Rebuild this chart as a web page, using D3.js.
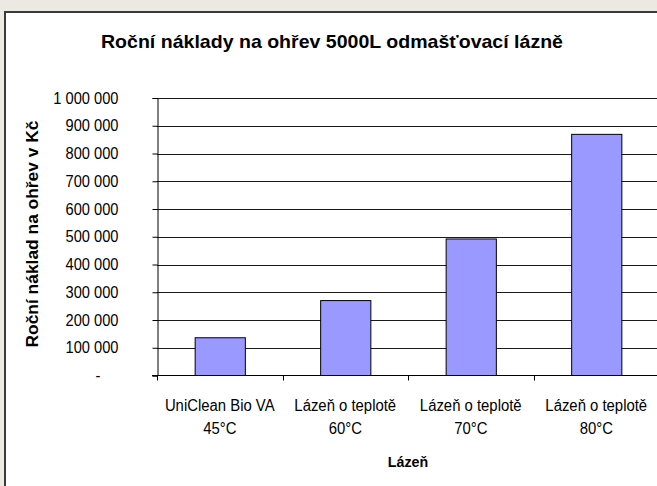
<!DOCTYPE html>
<html>
<head>
<meta charset="utf-8">
<script src="https://cdn.jsdelivr.net/npm/d3@7"></script>
<style>
  html, body { margin: 0; padding: 0; background: #ece9e3; }
  svg { display: block; font-family: "Liberation Sans", Arial, sans-serif; }
</style>
</head>
<body>
<svg id="chart" width="657" height="486"></svg>
<script>
// chart data
const categories = [
    ["UniClean Bio VA", "45°C"],
    ["Lázeň o teplotě", "60°C"],
    ["Lázeň o teplotě", "70°C"],
    ["Lázeň o teplotě", "80°C"]
];
const costs = [136000, 270000, 492000, 869000];
const yTicks = [0, 100000, 200000, 300000, 400000, 500000, 600000, 700000, 800000, 900000, 1000000];

const svg = d3.select("#chart");
const plot = { left: 157, right: 659, top: 98, bottom: 375.5 };

// the original font is a bit narrower than Liberation Sans, squeeze glyphs horizontally
function squeeze(sel, ratio) {
    sel.each(function() {
        const len = this.getComputedTextLength();
        this.setAttribute("textLength", len * ratio);
        this.setAttribute("lengthAdjust", "spacingAndGlyphs");
    });
}

// white chart area with dark frame on left/top
svg.append("rect")
    .attr("x", 5).attr("y", 12)
    .attr("width", 660).attr("height", 480)
    .attr("fill", "#fff")
    .attr("stroke", "#3a3a3a")
    .attr("stroke-width", 2);

const x = d3.scaleBand()
    .domain(d3.range(categories.length))
    .range([plot.left, plot.right])
    .paddingInner(0.6)
    .paddingOuter(0.3);

const y = d3.scaleLinear()
    .domain([0, 1000000])
    .range([plot.bottom, plot.top]);

const fmt = (v) => v === 0 ? "-" : d3.format(",")(v).replace(/,/g, " ");

// gridlines
svg.append("g")
    .selectAll("line")
    .data(yTicks.slice(1))
    .join("line")
    .attr("x1", plot.left).attr("x2", plot.right)
    .attr("y1", (d) => Math.round(y(d)) + 0.5)
    .attr("y2", (d) => Math.round(y(d)) + 0.5)
    .attr("stroke", "#1a1a1a")
    .attr("stroke-width", 1);

// y axis
const yAxis = svg.append("g")
    .attr("transform", "translate(" + (plot.left + 0.5) + ",0)")
    .call(d3.axisLeft(y).tickValues(yTicks).tickFormat(fmt).tickSize(5).tickPadding(34));
yAxis.select(".domain").attr("stroke", "#000");
yAxis.selectAll(".tick line").attr("stroke", "#000");
yAxis.selectAll(".tick text")
    .attr("font-size", "16px")
    .attr("font-family", "Liberation Sans, Arial, sans-serif")
    .attr("fill", "#000")
    .attr("dx", (d) => d === 0 ? -18 : 0)
    .call(squeeze, 0.915);

// bars
svg.append("g")
    .selectAll("rect")
    .data(costs)
    .join("rect")
    .attr("x", (d, i) => x(i) + 0.5)
    .attr("y", (d) => y(d))
    .attr("width", x.bandwidth())
    .attr("height", (d) => plot.bottom - y(d))
    .attr("fill", "#9999ff")
    .attr("stroke", "#000")
    .attr("stroke-width", 1);

// x axis line and category ticks (on band boundaries)
const step = (plot.right - plot.left) / categories.length;
const xg = svg.append("g");
xg.append("line")
    .attr("x1", plot.left - 5).attr("x2", plot.right)
    .attr("y1", plot.bottom).attr("y2", plot.bottom)
    .attr("stroke", "#000");
xg.selectAll(".cat-tick")
    .data(d3.range(categories.length + 1))
    .join("line")
    .attr("class", "cat-tick")
    .attr("x1", (d) => Math.round(plot.left + d * step) + 0.5)
    .attr("x2", (d) => Math.round(plot.left + d * step) + 0.5)
    .attr("y1", plot.bottom).attr("y2", plot.bottom + 5)
    .attr("stroke", "#000");

// category labels (two lines each)
const lines = categories.flatMap((c, i) => c.map((t, j) => ({ t: t, i: i, j: j })));
xg.selectAll(".cat-label")
    .data(lines)
    .join("text")
    .attr("class", "cat-label")
    .attr("x", (d) => x(d.i) + x.bandwidth() / 2)
    .attr("y", (d) => 411 + d.j * 22.5)
    .attr("text-anchor", "middle")
    .attr("font-size", "16px")
    .attr("fill", "#000")
    .text((d) => d.t)
    .call(squeeze, 0.93);

// titles
svg.append("text")
    .attr("x", 332).attr("y", 48)
    .attr("text-anchor", "middle")
    .attr("font-size", "19px")
    .attr("font-weight", "bold")
    .attr("textLength", 462)
    .attr("lengthAdjust", "spacingAndGlyphs")
    .text("Roční náklady na ohřev 5000L odmašťovací lázně");

svg.append("text")
    .attr("x", (plot.left + plot.right) / 2).attr("y", 467)
    .attr("text-anchor", "middle")
    .attr("font-size", "15.5px")
    .attr("font-weight", "bold")
    .text("Lázeň")
    .call(squeeze, 0.92);

svg.append("text")
    .attr("transform", "translate(38,234) rotate(-90)")
    .attr("text-anchor", "middle")
    .attr("font-size", "16px")
    .attr("font-weight", "bold")
    .attr("textLength", 227)
    .attr("lengthAdjust", "spacingAndGlyphs")
    .text("Roční náklad na ohřev v Kč");
</script>
</body>
</html>
